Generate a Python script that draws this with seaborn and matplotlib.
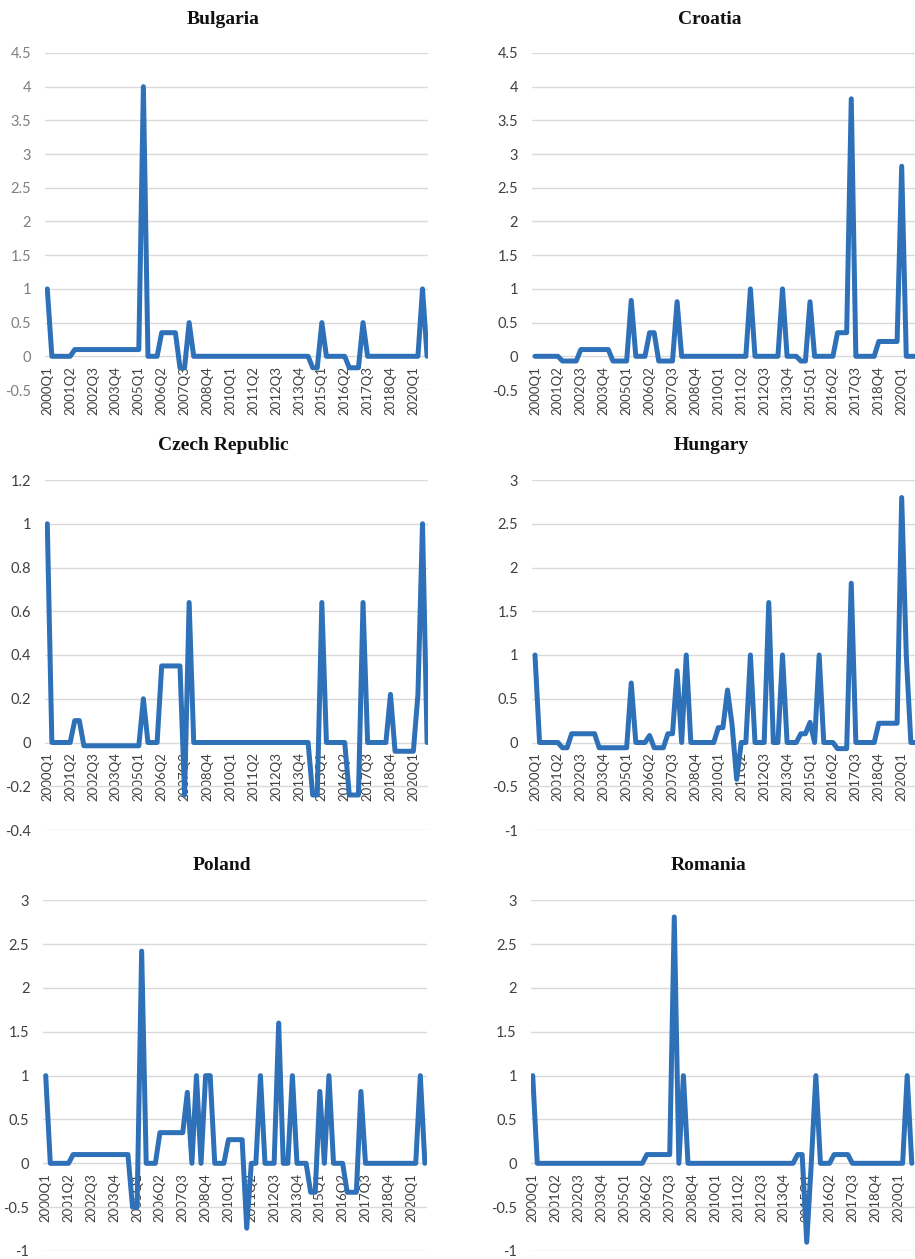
import matplotlib
matplotlib.use("Agg")
import matplotlib.pyplot as plt
import pandas as pd
import seaborn as sns

# Quarterly categories 2000Q1 .. 2020Q4
quarters = [f"{y}Q{q}" for y in range(2000, 2021) for q in range(1, 5)]

tick_labels = ["2000Q1", "2001Q2", "2002Q3", "2003Q4", "2005Q1", "2006Q2",
               "2007Q3", "2008Q4", "2010Q1", "2011Q2", "2012Q3", "2013Q4",
               "2015Q1", "2016Q2", "2017Q3", "2018Q4", "2020Q1"]

# one row per year (Q1..Q4)
bulgaria = [
    1, 0, 0, 0,
    0, 0, 0.1, 0.1,
    0.1, 0.1, 0.1, 0.1,
    0.1, 0.1, 0.1, 0.1,
    0.1, 0.1, 0.1, 0.1,
    0.1, 4, 0, 0,
    0, 0.35, 0.35, 0.35,
    0.35, -0.17, -0.17, 0.5,
    0, 0, 0, 0,
    0, 0, 0, 0,
    0, 0, 0, 0,
    0, 0, 0, 0,
    0, 0, 0, 0,
    0, 0, 0, 0,
    0, 0, -0.17, -0.17,
    0.5, 0, 0, 0,
    0, 0, -0.17, -0.17,
    -0.17, 0.5, 0, 0,
    0, 0, 0, 0,
    0, 0, 0, 0,
    0, 0, 1, 0,
]

croatia = [
    0, 0, 0, 0,
    0, 0, -0.07, -0.07,
    -0.07, -0.07, 0.1, 0.1,
    0.1, 0.1, 0.1, 0.1,
    0.1, -0.07, -0.07, -0.07,
    -0.07, 0.83, 0, 0,
    0, 0.35, 0.35, -0.07,
    -0.07, -0.07, -0.07, 0.81,
    0, 0, 0, 0,
    0, 0, 0, 0,
    0, 0, 0, 0,
    0, 0, 0, 1.0,
    0, 0, 0, 0,
    0, 0, 1.0, 0,
    0, 0, -0.07, -0.07,
    0.81, 0, 0, 0,
    0, 0, 0.35, 0.35,
    0.35, 3.82, 0, 0,
    0, 0, 0, 0.22,
    0.22, 0.22, 0.22, 0.22,
    2.82, 0, 0, 0,
]

czech = [
    1, 0, 0, 0,
    0, 0, 0.1, 0.1,
    -0.015, -0.015, -0.015, -0.015,
    -0.015, -0.015, -0.015, -0.015,
    -0.015, -0.015, -0.015, -0.015,
    -0.015, 0.2, 0, 0,
    0, 0.35, 0.35, 0.35,
    0.35, 0.35, -0.24, 0.64,
    0, 0, 0, 0,
    0, 0, 0, 0,
    0, 0, 0, 0,
    0, 0, 0, 0,
    0, 0, 0, 0,
    0, 0, 0, 0,
    0, 0, -0.24, -0.24,
    0.64, 0, 0, 0,
    0, 0, -0.24, -0.24,
    -0.24, 0.64, 0, 0,
    0, 0, 0, 0.22,
    -0.04, -0.04, -0.04, -0.04,
    -0.04, 0.22, 1, 0,
]

hungary = [
    1, 0, 0, 0,
    0, 0, -0.06, -0.06,
    0.1, 0.1, 0.1, 0.1,
    0.1, 0.1, -0.06, -0.06,
    -0.06, -0.06, -0.06, -0.06,
    -0.06, 0.68, 0, 0,
    0, 0.08, -0.06, -0.06,
    -0.06, 0.1, 0.1, 0.82,
    0, 1.0, 0, 0,
    0, 0, 0, 0,
    0.17, 0.17, 0.6, 0.2,
    -0.42, 0, 0, 1.0,
    0, 0, 0, 1.6,
    0, 0, 1.0, 0,
    0, 0, 0.1, 0.1,
    0.23, 0, 1.0, 0,
    0, 0, -0.07, -0.07,
    -0.07, 1.82, 0, 0,
    0, 0, 0, 0.22,
    0.22, 0.22, 0.22, 0.22,
    2.8, 1.0, 0, 0,
]

poland = [
    1, 0, 0, 0,
    0, 0, 0.1, 0.1,
    0.1, 0.1, 0.1, 0.1,
    0.1, 0.1, 0.1, 0.1,
    0.1, 0.1, 0.1, -0.5,
    -0.5, 2.42, 0, 0,
    0, 0.35, 0.35, 0.35,
    0.35, 0.35, 0.35, 0.81,
    0, 1.0, 0, 1.0,
    1.0, 0, 0, 0,
    0.27, 0.27, 0.27, 0.27,
    -0.74, 0, 0, 1.0,
    0, 0, 0, 1.6,
    0, 0, 1.0, 0,
    0, 0, -0.33, -0.33,
    0.82, 0, 1.0, 0,
    0, 0, -0.33, -0.33,
    -0.33, 0.82, 0, 0,
    0, 0, 0, 0,
    0, 0, 0, 0,
    0, 0, 1.0, 0,
]

romania = [
    1, 0, 0, 0,
    0, 0, 0, 0,
    0, 0, 0, 0,
    0, 0, 0, 0,
    0, 0, 0, 0,
    0, 0, 0, 0,
    0, 0.1, 0.1, 0.1,
    0.1, 0.1, 0.1, 2.81,
    0, 1.0, 0, 0,
    0, 0, 0, 0,
    0, 0, 0, 0,
    0, 0, 0, 0,
    0, 0, 0, 0,
    0, 0, 0, 0,
    0, 0, 0.1, 0.1,
    -0.9, 0, 1.0, 0,
    0, 0, 0.1, 0.1,
    0.1, 0.1, 0, 0,
    0, 0, 0, 0,
    0, 0, 0, 0,
    0, 0, 1.0, 0,
]

yticks_a = [-0.5, 0, 0.5, 1, 1.5, 2, 2.5, 3, 3.5, 4, 4.5]
ylabels_a = ["-0.5", "0", "0.5", "1", "1.5", "2", "2.5", "3", "3.5", "4", "4.5"]
yticks_b = [-0.4, -0.2, 0, 0.2, 0.4, 0.6, 0.8, 1, 1.2]
ylabels_b = ["-0.4", "-0.2", "0", "0.2", "0.4", "0.6", "0.8", "1", "1.2"]
yticks_c = [-1, -0.5, 0, 0.5, 1, 1.5, 2, 2.5, 3]
ylabels_c = ["-1", "-0.5", "0", "0.5", "1", "1.5", "2", "2.5", "3"]

df = pd.DataFrame({
    "quarter": quarters,
    "Bulgaria": bulgaria, "Croatia": croatia, "Czech Republic": czech,
    "Hungary": hungary, "Poland": poland, "Romania": romania,
})

sns.set_theme(style="white")
plt.rcParams["font.family"] = ["Lato", "DejaVu Sans"]

W, H = 915, 1259
fig = plt.figure(figsize=(W / 100, H / 100), dpi=100)

LINE = "#2E71B8"
GRID = "#D9D9D9"

# name, yticks, ylabels, plot box (left, top, right, bottom px), xlim, title (x, baseline px), ytick colour
panels = [
    ("Bulgaria", yticks_a, ylabels_a, (45, 53, 428, 390), (-0.5, 83.2), (223, 23.5), "#7F7F7F"),
    ("Croatia", yticks_a, ylabels_a, (532, 53, 917.5, 390), (-0.65, 83.45), (710, 23.5), "#404040"),
    ("Czech Republic", yticks_b, ylabels_b, (45, 480, 428, 830), (-0.5, 83.2), (223.5, 450.5), "#404040"),
    ("Hungary", yticks_c, ylabels_c, (532, 480, 917.5, 830), (-0.65, 83.45), (711, 450.5), "#404040"),
    ("Poland", yticks_c, ylabels_c, (43.3, 900.3, 426.7, 1251), (-0.53, 83.4), (221.5, 870.5), "#404040"),
    ("Romania", yticks_c, ylabels_c, (530.7, 900.3, 914.5, 1251), (-0.44, 83.6), (709, 870.5), "#404040"),
]

tick_pos = [quarters.index(t) for t in tick_labels]

for name, yt, yl, (x0, y0, x1, y1), xlim, (tx, ty), ycol in panels:
    ax = fig.add_axes([x0 / W, 1 - y1 / H, (x1 - x0) / W, (y1 - y0) / H])
    sns.lineplot(data=df, x="quarter", y=name, ax=ax, color=LINE, linewidth=3.6,
                 sort=False, solid_joinstyle="round", solid_capstyle="round")
    # category axis sits on the zero line
    for s in ax.spines.values():
        s.set_visible(False)
    ax.spines["bottom"].set_position(("data", 0))
    ax.set_xlim(*xlim)
    ax.set_ylim(yt[0], yt[-1])
    ax.set_yticks(yt)
    ax.set_yticklabels(yl)
    ax.set_xticks(tick_pos)
    ax.set_xticklabels(tick_labels)
    ax.grid(axis="y", color=GRID, linewidth=1.0)
    ax.grid(axis="x", visible=False)
    ax.tick_params(axis="x", length=0, pad=7, labelsize=9.5, labelcolor="#404040",
                   labelrotation=90)
    ax.tick_params(axis="y", length=0, pad=10, labelsize=10.5, labelcolor=ycol)
    ax.set_xlabel("")
    ax.set_ylabel("")
    fig.text(tx / W, 1 - ty / H, name, ha="center", va="baseline", fontsize=14,
             fontweight="bold", family=["Liberation Serif", "DejaVu Serif"], color="#111111")

fig.savefig("out.png", dpi=100, facecolor="white")
